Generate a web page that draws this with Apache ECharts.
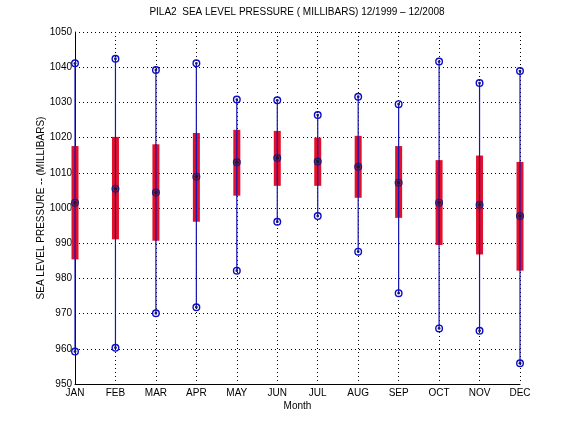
<!DOCTYPE html>
<html>
<head>
<meta charset="utf-8">
<script src="https://cdn.jsdelivr.net/npm/echarts@6/dist/echarts.min.js"></script>
<style>
html,body{margin:0;padding:0;background:#fff;}
#chart{width:576px;height:432px;}
</style>
</head>
<body>
<div id="chart"></div>
<script>
// monthly statistics
var months = ['JAN','FEB','MAR','APR','MAY','JUN','JUL','AUG','SEP','OCT','NOV','DEC'];
var minVals = [959.2, 960.3, 970.1, 971.8, 982.2, 996.1, 997.7, 987.6, 975.8, 965.8, 965.1, 955.9];
var q1Vals  = [985.4, 991.1, 990.7, 996.1, 1003.5, 1006.3, 1006.3, 1002.9, 997.2, 989.5, 986.8, 982.2];
var medVals = [1001.5, 1005.5, 1004.4, 1008.9, 1013.0, 1014.2, 1013.2, 1011.7, 1007.2, 1001.5, 1000.9, 997.7];
var q3Vals  = [1017.6, 1020.2, 1018.1, 1021.3, 1022.2, 1021.9, 1020.0, 1020.5, 1017.6, 1013.6, 1014.9, 1013.1];
var maxVals = [1041.1, 1042.4, 1039.2, 1041.1, 1030.8, 1030.6, 1026.4, 1031.6, 1029.5, 1041.6, 1035.5, 1038.9];

var yTicks = [950, 960, 970, 980, 990, 1000, 1010, 1020, 1030, 1040, 1050];

var rows = [];
for (var i = 0; i < months.length; i++) {
	rows.push([i, minVals[i], q1Vals[i], medVals[i], q3Vals[i], maxVals[i]]);
}

var font = 'Liberation Sans, Arial, sans-serif';

// ring with a small dot in the middle, like matlab's 'o' over '.'
function marker(x, y, ring, dot, dotR) {
	return {
		type: 'group',
		children: [
			{type: 'circle', shape: {cx: x, cy: y, r: 3.3}, style: {fill: 'none', stroke: ring, lineWidth: 1.4}},
			{type: 'circle', shape: {cx: x, cy: y, r: dotR}, style: {fill: dot}}
		]
	};
}

function renderBox(params, api) {
	var idx = api.value(0);
	var pMin = api.coord([idx, api.value(1)]);
	var pQ1 = api.coord([idx, api.value(2)]);
	var pMed = api.coord([idx, api.value(3)]);
	var pQ3 = api.coord([idx, api.value(4)]);
	var pMax = api.coord([idx, api.value(5)]);
	var w = 7;
	return {
		type: 'group',
		children: [
			{
				type: 'rect',
				shape: {x: pQ1[0] - w / 2, y: pQ3[1], width: w, height: pQ1[1] - pQ3[1]},
				style: {fill: '#e3102b'}
			},
			{
				type: 'line',
				shape: {x1: pMin[0], y1: pMin[1], x2: pMax[0], y2: pMax[1]},
				style: {stroke: '#1414b4', lineWidth: 1.2}
			},
			marker(pMax[0], pMax[1], '#0c0cc8', '#1a1a70', 1.4),
			marker(pMin[0], pMin[1], '#0c0cc8', '#1a1a70', 1.4),
			marker(pMed[0], pMed[1], '#1c1c80', '#201838', 2)
		]
	};
}

var option = {
	backgroundColor: '#fff',
	animation: false,
	title: {
		text: 'PILA2  SEA LEVEL PRESSURE ( MILLIBARS) 12/1999 \u2013 12/2008',
		left: 292,
		textAlign: 'center',
		top: 2,
		textStyle: {fontFamily: font, fontSize: 10, fontWeight: 'normal', color: '#000'}
	},
	grid: {left: 75, right: 56, top: 32, bottom: 48},
	xAxis: {
		type: 'category',
		data: months,
		boundaryGap: false,
		name: 'Month',
		nameLocation: 'middle',
		nameGap: 17,
		nameMoveOverlap: false,
		nameTextStyle: {fontFamily: font, fontSize: 10, color: '#000'},
		axisLine: {lineStyle: {color: '#000', width: 1}},
		axisTick: {show: false},
		axisLabel: {fontFamily: font, fontSize: 10, color: '#000', margin: 4},
		splitLine: {show: true, lineStyle: {color: '#000', type: [1, 3], width: 1}}
	},
	yAxis: {
		type: 'value',
		min: yTicks[0],
		max: yTicks[yTicks.length - 1],
		interval: 10,
		name: 'SEA LEVEL PRESSURE -- (MILLIBARS)',
		nameLocation: 'middle',
		nameGap: 29,
		nameMoveOverlap: false,
		nameTextStyle: {fontFamily: font, fontSize: 10, color: '#000'},
		axisLine: {show: true, lineStyle: {color: '#000', width: 1}},
		axisTick: {show: false},
		axisLabel: {fontFamily: font, fontSize: 10, color: '#000', margin: 3,
			formatter: function (v) { return String(v); }},
		splitLine: {show: true, lineStyle: {color: '#000', type: [1, 3], width: 1}}
	},
	series: [{
		type: 'custom',
		renderItem: renderBox,
		encode: {x: 0, y: [1, 2, 3, 4, 5]},
		data: rows,
		z: 5
	}]
};

var myChart = echarts.init(document.getElementById('chart'));
myChart.setOption(option);
</script>
</body>
</html>
